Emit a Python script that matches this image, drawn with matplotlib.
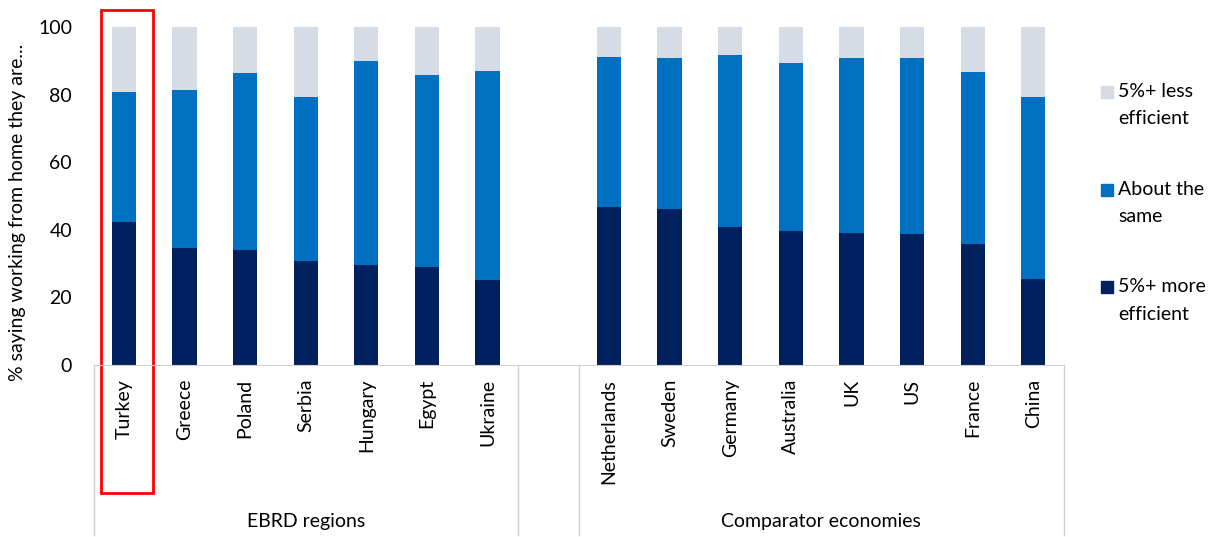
import matplotlib.pyplot as plt
from matplotlib.patches import Rectangle
import matplotlib.transforms as mtransforms

plt.rcParams['font.family'] = ['Lato', 'DejaVu Sans']

# Survey shares (%) by country
ebrd = ['Turkey', 'Greece', 'Poland', 'Serbia', 'Hungary', 'Egypt', 'Ukraine']
ebrd_more = [42.2, 34.5, 33.9, 30.8, 29.5, 29.1, 25.1]
ebrd_same = [38.5, 46.9, 52.6, 48.6, 60.4, 56.7, 62.0]

comp = ['Netherlands', 'Sweden', 'Germany', 'Australia', 'UK', 'US', 'France', 'China']
comp_more = [46.6, 46.3, 40.9, 39.6, 39.0, 38.7, 35.8, 25.4]
comp_same = [44.6, 44.5, 50.7, 49.7, 51.8, 52.1, 50.8, 54.0]

groups = ['EBRD regions', 'Comparator economies']
series = ['5%+ less\nefficient', 'About the\nsame', '5%+ more\nefficient']
colors = ['#D6DCE5', '#0070C0', '#002060']

labels = ebrd + [''] + comp
more = ebrd_more + [0] + comp_more
same = ebrd_same + [0] + comp_same
less = [0 if m + s == 0 else 100 - m - s for m, s in zip(more, same)]
x = list(range(len(labels)))

FS = 14
fig = plt.figure(figsize=(12.26, 5.37), dpi=100)
W, H = 1226, 537
ax = fig.add_axes([93.5 / W, (H - 365) / H, (1063.6 - 93.5) / W, 338 / H])

width = 0.4
ax.bar(x, more, width, color=colors[2])
ax.bar(x, same, width, bottom=more, color=colors[1])
ax.bar(x, less, width, bottom=[m + s for m, s in zip(more, same)], color=colors[0])

ax.set_xlim(-0.5, len(labels) - 0.5)
ax.set_ylim(0, 100)
ax.set_yticks(range(0, 101, 20))
ax.set_xticks(x)
ax.set_xticklabels(labels, rotation=90, fontsize=FS)
ax.tick_params(axis='x', length=0, pad=10)
ax.tick_params(axis='y', length=0, pad=15.5, labelsize=FS)
for side in ['top', 'right', 'left']:
    ax.spines[side].set_visible(False)
ax.spines['bottom'].set_color('#D0D0D0')

# group boxes under the category labels
trans = mtransforms.blended_transform_factory(ax.transData, ax.transAxes)
bottom = (365 - 535) / 338
n1 = len(ebrd)
for b in [-0.5, n1 - 0.5, n1 + 0.5, len(labels) - 0.5]:
    ax.plot([b, b], [0, bottom], transform=trans, color='#D0D0D0', lw=1, clip_on=False)
ax.text((n1 - 1) / 2, (365 - 522) / 338, groups[0], transform=trans,
        ha='center', va='center', fontsize=FS)
ax.text(n1 + 1 + (len(comp) - 1) / 2, (365 - 522) / 338, groups[1], transform=trans,
        ha='center', va='center', fontsize=FS)

# highlight box around the first country
ax.add_patch(Rectangle((-0.38, -37.9), 0.86, 142.9, fill=False, edgecolor='#FF0000',
                       lw=2, clip_on=False))

fig.text(18 / W, (H - 212) / H, '% saying working from home they are...',
         rotation=90, ha='center', va='center', fontsize=FS)

# legend
for i, (lab, c) in enumerate(zip(series, colors)):
    yc = [92, 190, 287][i]
    fig.patches.append(Rectangle(((1107 - 6) / W, (H - yc - 6) / H), 12 / W, 12 / H,
                                 color=c, transform=fig.transFigure))
    fig.text(1118 / W, (H - yc + 9) / H, lab, ha='left', va='top', fontsize=FS,
             linespacing=1.75)

fig.savefig('out.png')
